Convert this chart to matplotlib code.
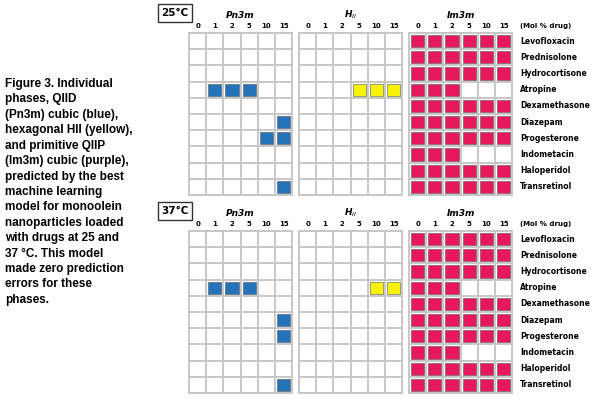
import numpy as np
import matplotlib.pyplot as plt
from matplotlib.patches import Rectangle

drugs = ["Levofloxacin", "Prednisolone", "Hydrocortisone", "Atropine", "Dexamethasone",
         "Diazepam", "Progesterone", "Indometacin", "Haloperidol", "Transretinol"]
conc = ["0", "1", "2", "5", "10", "15"]
phases = ["Pn3m", "H$_{II}$", "Im3m"]
phase_colors = ["#2472b8", "#f7f20a", "#e8195a"]

# 1 = phase predicted, rows = drugs, cols = mol % drug
pn3m_25 = [[0]*6, [0]*6, [0]*6, [0, 1, 1, 1, 0, 0], [0]*6,
           [0, 0, 0, 0, 0, 1], [0, 0, 0, 0, 1, 1], [0]*6, [0]*6, [0, 0, 0, 0, 0, 1]]
hii_25 = [[0]*6, [0]*6, [0]*6, [0, 0, 0, 1, 1, 1], [0]*6, [0]*6, [0]*6, [0]*6, [0]*6, [0]*6]
im3m_25 = [[1]*6, [1]*6, [1]*6, [1, 1, 1, 0, 0, 0], [1]*6,
           [1]*6, [1]*6, [1, 1, 1, 0, 0, 0], [1]*6, [1]*6]
pn3m_37 = [[0]*6, [0]*6, [0]*6, [0, 1, 1, 1, 0, 0], [0]*6,
           [0, 0, 0, 0, 0, 1], [0, 0, 0, 0, 0, 1], [0]*6, [0]*6, [0, 0, 0, 0, 0, 1]]
hii_37 = [[0]*6, [0]*6, [0]*6, [0, 0, 0, 0, 1, 1], [0]*6, [0]*6, [0]*6, [0]*6, [0]*6, [0]*6]
im3m_37 = im3m_25

panels = [("25°C", [pn3m_25, hii_25, im3m_25], 33),
          ("37°C", [pn3m_37, hii_37, im3m_37], 231)]

caption = ("Figure 3. Individual\nphases, QIID\n(Pn3m) cubic (blue),\nhexagonal HII (yellow),\n"
           "and primitive QIIP\n(Im3m) cubic (purple),\npredicted by the best\nmachine learning\n"
           "model for monoolein\nnanoparticles loaded\nwith drugs at 25 and\n37 °C. This model\n"
           "made zero prediction\nerrors for these\nphases.")

fig = plt.figure(figsize=(6, 4.01), dpi=100)
ax = fig.add_axes([0, 0, 1, 1])
ax.set_xlim(0, 600)
ax.set_ylim(401, 0)
ax.axis("off")

ax.text(5, 78, caption, fontsize=8.5, fontweight="bold", va="top", ha="left",
        linespacing=1.38, family="Liberation Sans")

grid_x = [189, 299, 409]
cw, ch = 17.2, 16.2
for label, mats, y0 in panels:
    ax.text(175, y0 - 20, label, fontsize=7.5, fontweight="bold", ha="center", va="center",
            bbox=dict(boxstyle="square,pad=0.35", fc="white", ec="#333333", lw=1))
    for p, (mat, x0) in enumerate(zip(mats, grid_x)):
        mat = np.array(mat)
        ax.add_patch(Rectangle((x0 - 1, y0 - 1), cw * 6 + 2, ch * 10 + 2, fc="#c8c8c8", ec="none"))
        ax.text(x0 + cw * 3, y0 - 18, phases[p], fontsize=6.5, fontweight="bold",
                style="italic", ha="center", va="center")
        for j in range(6):
            ax.text(x0 + cw * (j + 0.5), y0 - 7, conc[j], fontsize=5, fontweight="bold",
                    ha="center", va="center")
            for i in range(10):
                ax.add_patch(Rectangle((x0 + cw * j + 1, y0 + ch * i + 1), cw - 2, ch - 2,
                                       fc="white", ec="none"))
                if mat[i, j]:
                    ax.add_patch(Rectangle((x0 + cw * j + 2, y0 + ch * i + 2), cw - 4, ch - 4,
                                           fc=phase_colors[p], ec="#555555", lw=0.4))
    ax.text(520, y0 - 7, "(Mol % drug)", fontsize=5, fontweight="bold", va="center")
    for i, d in enumerate(drugs):
        ax.text(520, y0 + ch * (i + 0.5), d, fontsize=5.5, fontweight="bold", va="center")

fig.savefig("out.png", dpi=100)
